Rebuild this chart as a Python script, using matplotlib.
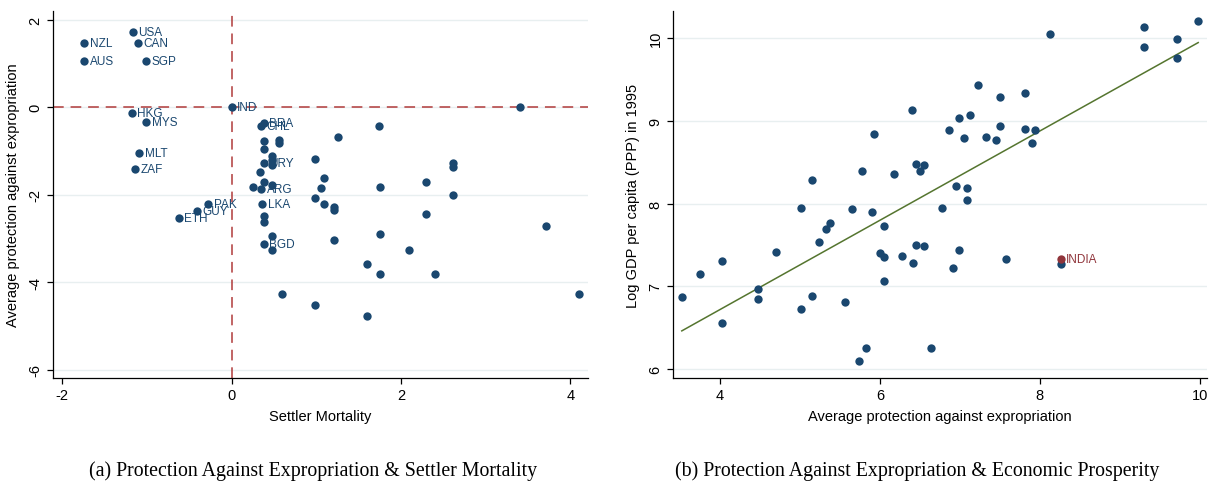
import numpy as np
import matplotlib
matplotlib.use("Agg")
import matplotlib.pyplot as plt

plt.rcParams['font.family'] = ['Liberation Sans', 'DejaVu Sans']
plt.rcParams['axes.unicode_minus'] = False

NAVY = '#1a476f'
RED = '#90353b'
DASH_RED = '#b03a3a'
OLIVE = '#55752f'
GRID = '#e8eff0'

# panel (a): settler mortality vs expropriation (labelled countries)
lab_names = ['USA', 'NZL', 'CAN', 'AUS', 'SGP', 'IND', 'HKG', 'MYS', 'MLT', 'ZAF',
             'BRA', 'CHL', 'URY', 'ARG', 'PAK', 'LKA', 'GUY', 'ETH', 'BGD']
lab_x = [-1.17, -1.74, -1.105, -1.74, -1.007, 0.0, -1.18, -1.007, -1.09, -1.14,
         0.384, 0.349, 0.384, 0.352, -0.274, 0.364, -0.411, -0.62, 0.384]
lab_y = [1.73, 1.46, 1.46, 1.05, 1.05, 0.0, -0.13, -0.33, -1.04, -1.41,
         -0.36, -0.44, -1.27, -1.88, -2.21, -2.22, -2.38, -2.53, -3.12]

# panel (a): unlabelled countries
oth_x = [3.41, 1.746, 1.255, 0.384, 0.558, 0.558, 0.384, 0.479, 0.479, 0.479,
         0.983, 0.333, 1.093, 1.747, 0.258, 0.384, 0.479, 1.061, 0.983, 1.093,
         1.215, 1.215, 0.384, 0.384, 1.747, 0.479, 1.215, 0.479, 1.598, 2.09,
         2.618, 2.618, 2.30, 2.618, 2.30, 3.717, 1.75, 2.40, 4.10, 1.598,
         0.597, 0.983]
oth_y = [0.0, -0.44, -0.68, -0.77, -0.76, -0.82, -0.95, -1.11, -1.20, -1.32,
         -1.18, -1.49, -1.62, -1.82, -1.82, -1.72, -1.77, -1.85, -2.08, -2.22,
         -2.27, -2.36, -2.49, -2.62, -2.90, -2.95, -3.04, -3.27, -3.59, -3.27,
         -1.27, -1.36, -1.72, -2.0, -2.45, -2.72, -3.81, -3.81, -4.27, -4.77,
         -4.27, -4.53]

# panel (b): expropriation vs log GDP
exp_x = [9.98, 9.30, 8.13, 9.71, 9.30, 9.71, 7.23, 7.81, 7.50, 6.40,
         7.13, 6.99, 7.50, 7.81, 7.94, 6.86, 5.92, 7.32, 7.05, 7.45,
         7.90, 6.45, 6.55, 5.78, 6.50, 6.18, 5.15, 6.95, 7.09, 7.09,
         5.01, 6.77, 5.65, 5.90, 5.37, 6.05, 5.33, 5.24, 6.45, 6.55,
         6.99, 4.70, 6.00, 6.28, 6.05, 7.58, 4.02, 6.41, 8.26, 6.91,
         3.75, 6.05, 4.47, 3.52, 5.15, 4.47, 5.56, 5.01, 4.02, 5.83,
         6.64, 5.74]
gdp_y = [10.21, 10.14, 10.05, 9.99, 9.90, 9.76, 9.43, 9.34, 9.29, 9.13,
         9.07, 9.03, 8.94, 8.90, 8.89, 8.89, 8.84, 8.81, 8.79, 8.77,
         8.73, 8.48, 8.47, 8.40, 8.39, 8.36, 8.29, 8.21, 8.19, 8.04,
         7.95, 7.95, 7.93, 7.90, 7.77, 7.73, 7.69, 7.54, 7.50, 7.49,
         7.44, 7.42, 7.40, 7.37, 7.35, 7.33, 7.31, 7.28, 7.27, 7.22,
         7.15, 7.06, 6.97, 6.87, 6.88, 6.84, 6.81, 6.73, 6.56, 6.25,
         6.25, 6.10]
india_x = [8.26]
india_y = [7.33]

fig = plt.figure(figsize=(12.1, 4.85), dpi=100)
ax1 = fig.add_axes([53 / 1210, 1 - 379 / 485, 535 / 1210, 367 / 485])
ax2 = fig.add_axes([673 / 1210, 1 - 379 / 485, 534 / 1210, 367 / 485])


def style_axes(ax):
    for s in ['top', 'right']:
        ax.spines[s].set_visible(False)
    for s in ['left', 'bottom']:
        ax.spines[s].set_linewidth(0.9)
    ax.tick_params(direction='out', length=4.5, width=0.9, labelsize=10.5, pad=3)
    for lbl in ax.get_yticklabels():
        lbl.set_rotation(90)
        lbl.set_va('center')
    ax.grid(axis='y', color=GRID, lw=1.0)
    ax.set_axisbelow(True)


# (a)
ax1.set_xlim(-2.11, 4.21)
ax1.set_ylim(-6.19, 2.2)
ax1.set_xticks([-2, 0, 2, 4])
ax1.set_yticks([-6, -4, -2, 0, 2])
style_axes(ax1)
ax1.axhline(0, color=DASH_RED, lw=1.1, dashes=(7, 4.5), zorder=1)
ax1.axvline(0, color=DASH_RED, lw=1.1, dashes=(7, 4.5), zorder=1)
ax1.scatter(oth_x, oth_y, s=36, color=NAVY, linewidths=0, zorder=3)
ax1.scatter(lab_x, lab_y, s=36, color=NAVY, linewidths=0, zorder=3)
for n, x, y in zip(lab_names, lab_x, lab_y):
    ax1.annotate(n, (x, y), xytext=(3.8, 0), textcoords='offset points',
                 ha='left', va='center', fontsize=8.5, color=NAVY, zorder=4)
ax1.set_xlabel('Settler Mortality', fontsize=10.5, labelpad=5)
ax1.set_ylabel('Average protection against expropriation', fontsize=10.5, labelpad=6)

# (b)
ax2.set_xlim(3.41, 10.09)
ax2.set_ylim(5.89, 10.33)
ax2.set_xticks([4, 6, 8, 10])
ax2.set_yticks([6, 7, 8, 9, 10])
style_axes(ax2)
coef = np.polyfit(exp_x, gdp_y, 1)
xs = np.array([min(exp_x), max(exp_x)])
ax2.plot(xs, np.polyval(coef, xs), color=OLIVE, lw=1.1, zorder=2)
ax2.scatter(exp_x, gdp_y, s=36, color=NAVY, linewidths=0, zorder=3)
ax2.scatter(india_x, india_y, s=36, color=RED, linewidths=0, zorder=4)
ax2.annotate('INDIA', (india_x[0], india_y[0]), xytext=(3.8, 0), textcoords='offset points',
             ha='left', va='center', fontsize=8.5, color=RED, zorder=4)
ax2.set_xlabel('Average protection against expropriation', fontsize=10.5, labelpad=5)
ax2.set_ylabel('Log GDP per capita (PPP) in 1995', fontsize=10.5, labelpad=6)

fig.text(313 / 1210, 1 - 471 / 485, '(a) Protection Against Expropriation & Settler Mortality',
         family='Liberation Serif', fontsize=14.3, ha='center', va='center')
fig.text(917 / 1210, 1 - 471 / 485, '(b) Protection Against Expropriation & Economic Prosperity',
         family='Liberation Serif', fontsize=14.3, ha='center', va='center')

fig.savefig('out.png', dpi=100)
